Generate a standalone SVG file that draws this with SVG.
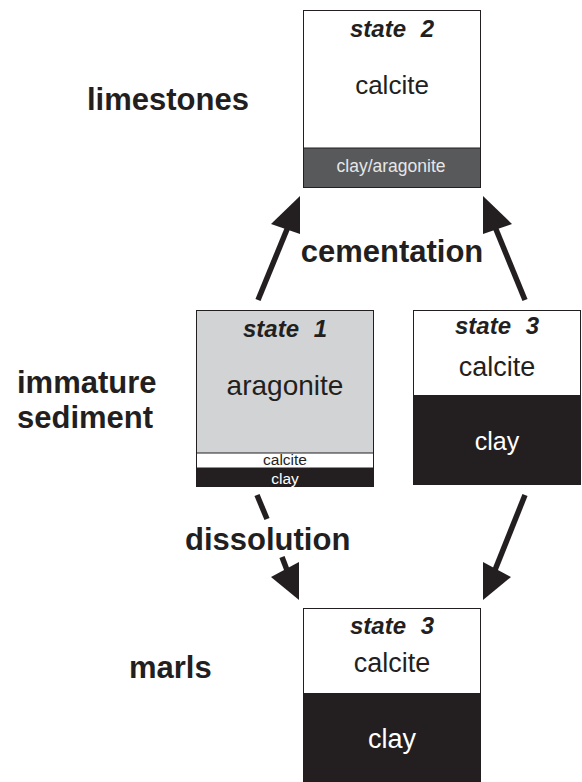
<svg xmlns="http://www.w3.org/2000/svg" width="582" height="782" viewBox="0 0 582 782">
<style>
.lbl{font-family:"Liberation Sans",Arial,sans-serif;font-weight:bold;font-size:31px;fill:#231f20}
.st{font-family:"Liberation Sans",Arial,sans-serif;font-weight:bold;font-style:italic;font-size:24px;fill:#231f20;text-anchor:middle;word-spacing:8px}
.tx{font-family:"Liberation Sans",Arial,sans-serif;fill:#231f20;text-anchor:middle}
.wt{font-family:"Liberation Sans",Arial,sans-serif;fill:#ffffff;text-anchor:middle}
.box{stroke:#231f20;stroke-width:1}
.shaft{stroke:#231f20;stroke-width:5.5;fill:none}
.head{fill:#231f20}
</style>
<rect width="582" height="782" fill="#ffffff"/>
<g id="labels">
<text class="lbl" x="87" y="110">limestones</text>
<text class="lbl" x="17" y="393">immature</text>
<text class="lbl" x="17" y="428">sediment</text>
<text class="lbl" x="129" y="678">marls</text>
</g>
<g id="state2">
<rect class="box" x="303.5" y="10.5" width="177" height="177" fill="#ffffff"/>
<rect x="303.5" y="148" width="177" height="39.5" fill="#58595b" class="box"/>
<text class="st" x="392" y="37">state 2</text>
<text class="tx" x="392" y="94" font-size="26">calcite</text>
<text x="391" y="172" font-size="17.5" font-family="Liberation Sans,Arial,sans-serif" fill="#e6e7e8" text-anchor="middle">clay/aragonite</text>
</g>
<g id="state1">
<rect class="box" x="196.5" y="310.5" width="177" height="176" fill="#d1d3d4"/>
<rect x="196.5" y="453" width="177" height="15" fill="#ffffff" class="box"/>
<rect x="196.5" y="468" width="177" height="18.5" fill="#231f20"/>
<text class="st" x="285" y="337">state 1</text>
<text class="tx" x="285" y="395" font-size="28">aragonite</text>
<text class="tx" x="285" y="465" font-size="15.5">calcite</text>
<text class="wt" x="285" y="483.5" font-size="15.5">clay</text>
</g>
<g id="state3a">
<rect class="box" x="413.5" y="310.5" width="167" height="174" fill="#ffffff"/>
<rect x="413.5" y="395" width="167" height="89.5" fill="#231f20"/>
<text class="st" x="497" y="334">state 3</text>
<text class="tx" x="497" y="376" font-size="27">calcite</text>
<text class="wt" x="497" y="450" font-size="25">clay</text>
</g>
<g id="state3b">
<rect class="box" x="303.5" y="608.5" width="177" height="173" fill="#ffffff"/>
<rect x="303.5" y="693" width="177" height="88.5" fill="#231f20"/>
<text class="st" x="392" y="634">state 3</text>
<text class="tx" x="392" y="672" font-size="27">calcite</text>
<text class="wt" x="392" y="748" font-size="27">clay</text>
</g>
<g id="connectors">
<line class="shaft" x1="258" y1="300" x2="290" y2="222"/>
<polygon class="head" points="300,196 271,224 300,234"/>
<line class="shaft" x1="525" y1="300" x2="493" y2="222"/>
<polygon class="head" points="483,196 512,224 483,234"/>
<line class="shaft" x1="257" y1="495" x2="267" y2="519"/>
<line class="shaft" x1="282" y1="557" x2="290" y2="578"/>
<polygon class="head" points="299,600 271,577 299,562"/>
<line class="shaft" x1="525" y1="495" x2="493" y2="575"/>
<polygon class="head" points="483,600 483,562 511,577"/>
<text class="lbl" x="392" y="262" text-anchor="middle">cementation</text>
<text class="lbl" x="185" y="550">dissolution</text>
</g>
</svg>
